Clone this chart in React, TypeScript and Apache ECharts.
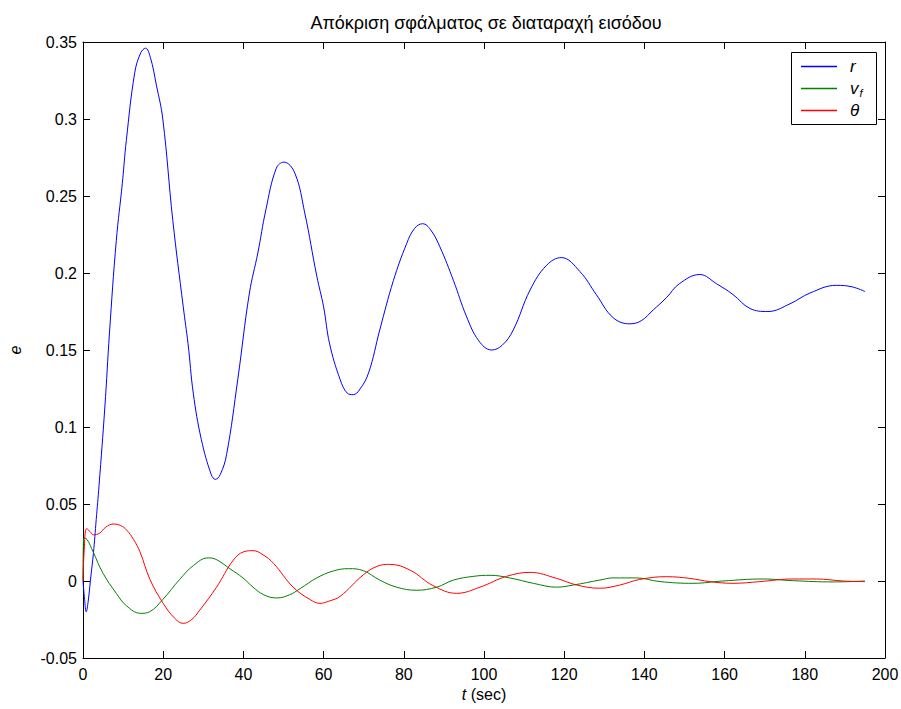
import React, { useEffect, useRef } from "react";
import * as echarts from "echarts";

const titleText = "Απόκριση σφάλματος σε διαταραχή εισόδου";
const seriesNames = ["r", "v_f", "θ"];
const seriesColors = ["#0000ff", "#008000", "#ff0000"];

const rT = [0, 0.4, 0.8, 1.3, 2.0, 2.6, 3.3, 4.0, 5.45, 6.6, 8.3, 9.8, 10.8, 12.9, 14.4, 15.6, 16.8, 18.3, 19.9, 22.4, 25.0, 26.2, 27.5, 29.5, 32.0, 33.0, 34.2, 35.8, 38.6, 41.5, 43.6, 45.6, 48.2, 50.1, 52.8, 55.3, 58.3, 60.0, 61.5, 64.1, 65.9, 67.4, 68.9, 71.2, 74.0, 77.4, 80.7, 82.7, 84.7, 86.7, 89.0, 92.4, 95.6, 98.7, 101.9, 104.5, 107.3, 111.5, 115.6, 119.3, 123.9, 128.0, 132.2, 136.4, 139.2, 142.2, 145.5, 148.7, 153.8, 158.0, 162.1, 166.3, 170.8, 176.3, 181.3, 187.9, 191.8, 195.0];
const rV = [0, -0.012, -0.020, -0.013, 0.004, 0.018, 0.040, 0.062, 0.113, 0.161, 0.221, 0.258, 0.286, 0.330, 0.343, 0.346, 0.340, 0.322, 0.300, 0.234, 0.178, 0.154, 0.122, 0.092, 0.069, 0.066, 0.069, 0.082, 0.131, 0.187, 0.213, 0.241, 0.268, 0.272, 0.265, 0.239, 0.198, 0.178, 0.154, 0.131, 0.122, 0.121, 0.124, 0.135, 0.163, 0.195, 0.219, 0.229, 0.232, 0.228, 0.217, 0.195, 0.172, 0.156, 0.150, 0.153, 0.163, 0.189, 0.205, 0.210, 0.201, 0.186, 0.171, 0.167, 0.169, 0.176, 0.184, 0.193, 0.199, 0.193, 0.186, 0.177, 0.175, 0.180, 0.187, 0.192, 0.191, 0.188];

const vfT = [0, 0.2, 1.0, 2.5, 5.0, 8.3, 10.8, 14.4, 16.6, 19.9, 24.1, 27.5, 31.2, 33.2, 36.6, 39.9, 42.4, 45.1, 48.3, 51.5, 54.1, 58.3, 62.4, 66.2, 69.9, 74.0, 78.2, 83.1, 88.2, 92.4, 97.3, 101.5, 106.4, 112.3, 118.1, 122.3, 128.9, 132.2, 138.0, 143.9, 152.1, 159.6, 169.6, 177.1, 187.1, 195.0];
const vfV = [0, 0.028, 0.027, 0.019, 0.005, -0.008, -0.016, -0.021, -0.020, -0.012, 0.001, 0.010, 0.015, 0.014, 0.008, 0.002, -0.004, -0.009, -0.011, -0.009, -0.005, 0.002, 0.0065, 0.008, 0.0067, 0.0006, -0.004, -0.006, -0.004, 0.0006, 0.003, 0.0037, 0.002, -0.0015, -0.004, -0.0026, 0.0006, 0.002, 0.002, -0.0004, -0.0015, 0, 0.0013, 0.0002, -0.0006, 0];

const thT = [0, 0.3, 0.9, 1.8, 2.6, 4.1, 5.7, 7.5, 9.4, 10.9, 12.6, 14.2, 16.7, 20.0, 22.8, 25.0, 27.1, 29.1, 33.3, 37.5, 40.1, 42.4, 44.9, 47.5, 52.4, 56.6, 59.1, 61.4, 64.1, 69.9, 73.3, 76.5, 81.6, 87.3, 93.2, 99.0, 105.6, 111.5, 118.1, 123.1, 128.9, 133.9, 138.8, 145.5, 151.3, 156.3, 162.1, 168.8, 177.1, 182.9, 189.6, 195.0];
const thV = [0, 0.020, 0.034, 0.032, 0.030, 0.031, 0.035, 0.037, 0.036, 0.033, 0.027, 0.019, 0.001, -0.0145, -0.024, -0.0275, -0.025, -0.019, -0.004, 0.0136, 0.019, 0.0197, 0.017, 0.0115, -0.004, -0.012, -0.0145, -0.013, -0.010, 0.004, 0.0095, 0.0108, 0.007, -0.003, -0.008, -0.004, 0.003, 0.0056, 0.0017, -0.0026, -0.0047, -0.0026, 0.001, 0.0028, 0.0017, -0.0004, -0.0015, -0.0004, 0.0013, 0.0013, 0, -0.0004];

const xMin = 0, xMax = 200, xStep = 20;
const yMin = -0.05, yMax = 0.35, yStep = 0.05;

const FONT = "'Liberation Sans', Arial, sans-serif";

function zip(t: number[], v: number[]) {
  return t.map((x, i) => [x, v[i]]);
}

export default function App() {
  const ref = useRef<HTMLDivElement>(null);
  useEffect(() => {
    document.body.style.margin = "0";
    const chart = echarts.init(ref.current!, null, { renderer: "svg" });
    const tickStyle = { show: true, inside: true, length: 7, lineStyle: { color: "#000", width: 1 } };
    const axisLineStyle = { show: true, onZero: false, lineStyle: { color: "#000", width: 1 } };
    const labelStyle = { color: "#000", fontSize: 16, fontFamily: FONT };
    const datasets = [zip(rT, rV), zip(vfT, vfV), zip(thT, thV)];
    chart.setOption({
      animation: false,
      backgroundColor: "#fff",
      title: {
        text: titleText,
        left: 481,
        textAlign: "center",
        top: 9,
        textStyle: { color: "#000", fontSize: 18, fontWeight: "normal", fontFamily: FONT },
      },
      grid: { left: 83, right: 16, top: 42, bottom: 51, outerBoundsMode: "none", containLabel: false },
      legend: {
        orient: "vertical",
        left: 801,
        top: 58,
        padding: 0,
        icon: "rect",
        itemWidth: 36,
        itemHeight: 1.5,
        itemGap: 3.5,
        data: seriesNames,
        formatter: (name: string) => (name === "v_f" ? "{i|v}{s|f}" : "{i|" + name + "}"),
        textStyle: {
          color: "#000",
          fontFamily: FONT,
          padding: [0, 0, 0, 8],
          rich: {
            i: { fontStyle: "italic", fontSize: 17, fontFamily: FONT, color: "#000", lineHeight: 17 },
            s: { fontStyle: "italic", fontSize: 11, fontFamily: FONT, color: "#000", padding: [9, 0, 0, 1], lineHeight: 17 },
          },
        },
      },
      graphic: [
        {
          type: "rect",
          z: 3,
          shape: { x: 791.5, y: 52.5, width: 85, height: 72 },
          style: { fill: "#fff", stroke: "#000", lineWidth: 1 },
        },
      ],
      xAxis: [
        {
          type: "value",
          min: xMin,
          max: xMax,
          interval: xStep,
          position: "bottom",
          axisLine: axisLineStyle,
          axisTick: tickStyle,
          splitLine: { show: false },
          axisLabel: { ...labelStyle, margin: 8 },
          name: "{i|t} (sec)",
          nameLocation: "middle",
          nameGap: 25,
          nameTextStyle: {
            color: "#000",
            fontSize: 16,
            fontFamily: FONT,
            rich: { i: { fontStyle: "italic", fontSize: 16, fontFamily: FONT, color: "#000" } },
          },
        },
        {
          type: "value",
          min: xMin,
          max: xMax,
          interval: xStep,
          position: "top",
          axisLine: axisLineStyle,
          axisTick: tickStyle,
          splitLine: { show: false },
          axisLabel: { show: false },
        },
      ],
      yAxis: [
        {
          type: "value",
          min: yMin,
          max: yMax,
          interval: yStep,
          position: "left",
          axisLine: axisLineStyle,
          axisTick: tickStyle,
          splitLine: { show: false },
          axisLabel: { ...labelStyle, margin: 6 },
          name: "e",
          nameLocation: "middle",
          nameGap: 60,
          nameTextStyle: { color: "#000", fontSize: 16, fontStyle: "italic", fontFamily: FONT },
        },
        {
          type: "value",
          min: yMin,
          max: yMax,
          interval: yStep,
          position: "right",
          axisLine: axisLineStyle,
          axisTick: tickStyle,
          splitLine: { show: false },
          axisLabel: { show: false },
        },
      ],
      series: seriesNames.map((name, i) => ({
        name,
        type: "line",
        xAxisIndex: 0,
        yAxisIndex: 0,
        data: datasets[i],
        symbol: "none",
        smooth: 0.4,
        lineStyle: { color: seriesColors[i], width: 1 },
        itemStyle: { color: seriesColors[i] },
      })),
    });
    return () => chart.dispose();
  }, []);
  return <div ref={ref} style={{ position: "absolute", left: 0, top: 0, width: 901, height: 709 }} />;
}
